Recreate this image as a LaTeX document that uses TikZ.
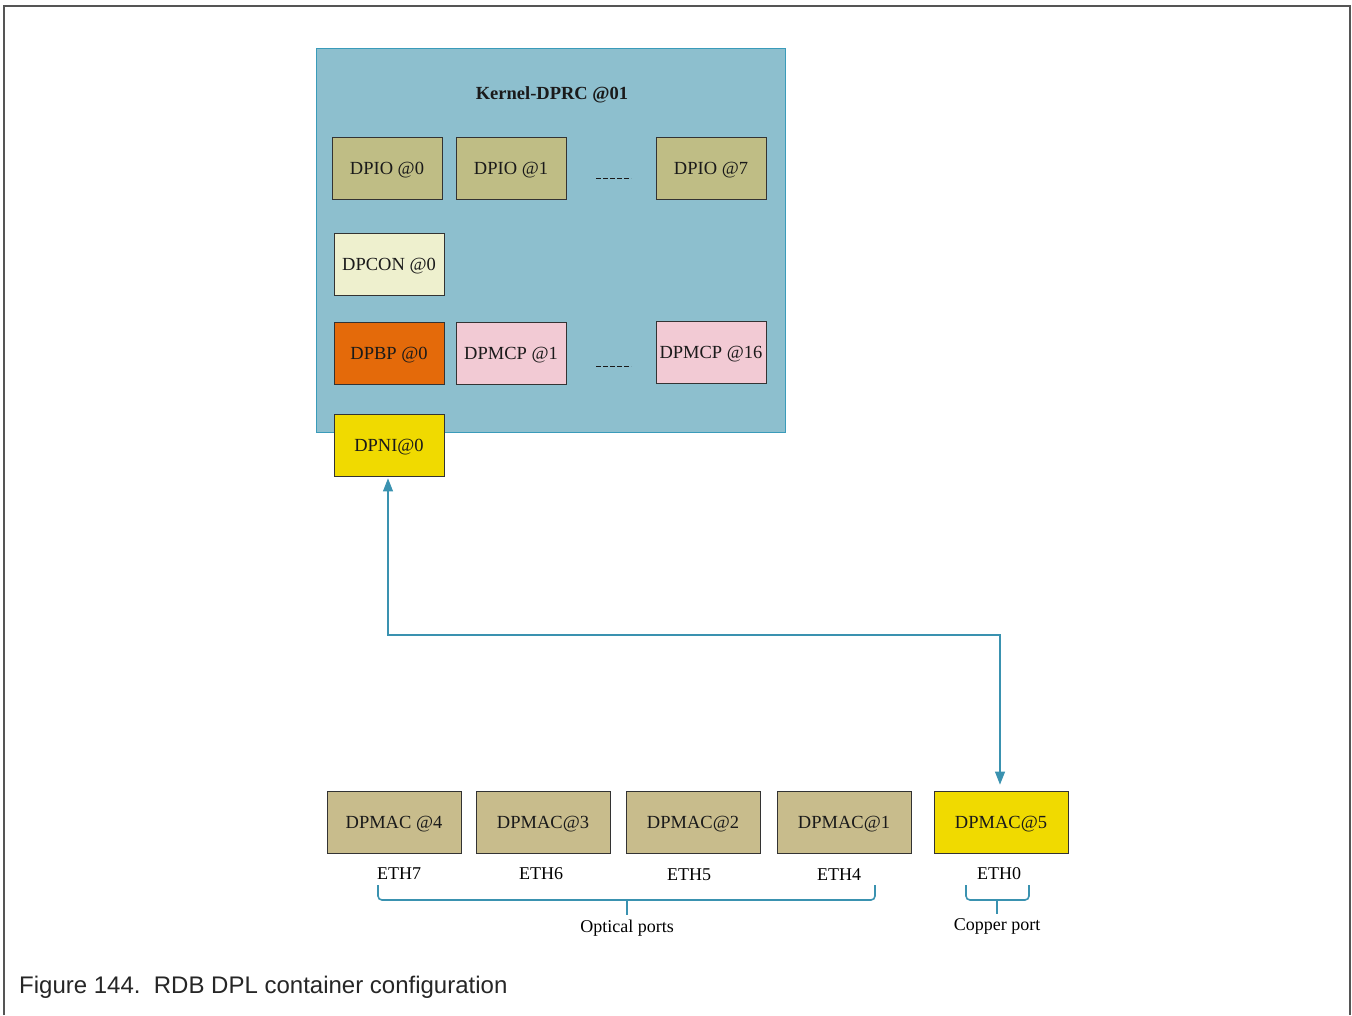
\documentclass[tikz,border=0pt]{standalone}
\usepackage{fontspec}
\setmainfont{Liberation Serif}
\newfontfamily\capfont{Liberation Sans}
\usetikzlibrary{arrows.meta}
\definecolor{contfill}{HTML}{8DBFCE}
\definecolor{contline}{HTML}{3A9BBA}
\definecolor{dpiofill}{HTML}{BFBD85}
\definecolor{macfill}{HTML}{C8BC8C}
\definecolor{confill}{HTML}{EEF0CE}
\definecolor{bpfill}{HTML}{E46A0A}
\definecolor{mcpfill}{HTML}{F2CAD4}
\definecolor{yel}{HTML}{F0DA00}
\definecolor{conn}{HTML}{3A92B0}
\definecolor{txt}{HTML}{1A1A1A}
\definecolor{frame}{HTML}{555555}
\tikzset{
  box/.style={draw=black!80, line width=0.8pt, minimum width=110pt, minimum height=62pt, inner sep=0pt, text=txt, text height=12.5pt, text depth=0pt, font=\fontsize{18.5}{20}\selectfont},
  macbox/.style={box, minimum width=134pt, fill=macfill},
  lbl/.style={inner sep=0pt, text=black, font=\fontsize{18}{20}\selectfont},
  link/.style={draw=conn, line width=1.1pt, {Triangle[width=10pt,length=13pt]}-{Triangle[width=10pt,length=13pt]}},
  brace/.style={draw=conn, line width=1.6pt, rounded corners=4pt},
  dots/.style={draw=txt, line width=0.8pt, dash pattern=on 5pt off 2pt}
}
\begin{document}
\begin{tikzpicture}[x=1pt,y=-1pt]
\useasboundingbox (0,0) rectangle (1352,1015);
% outer frame
\draw[frame, line width=1.5pt] (4,1015) -- (4,6) -- (1350,6) -- (1350,1015);
% container
\node[draw=contline, fill=contfill, line width=1pt, minimum width=469pt, minimum height=384pt, inner sep=0pt] (cont) at (550.5,240) {};
\node[lbl, font=\fontsize{18.5}{20}\selectfont\bfseries, text=txt] (title) at (552,95) {Kernel-DPRC @01};
\node[box, fill=dpiofill] (dpio0) at (387,168) {DPIO @0};
\node[box, fill=dpiofill] (dpio1) at (511,168) {DPIO @1};
\node[box, fill=dpiofill] (dpio7) at (711,168) {DPIO @7};
\coordinate (d1a) at (596,178); \coordinate (d1b) at (631,178);
\draw[dots] (d1a) -- (d1b);
\node[box, fill=confill] (dpcon) at (389,264) {DPCON @0};
\node[box, fill=bpfill] (dpbp) at (389,353) {DPBP @0};
\node[box, fill=mcpfill] (mcp1) at (511,353) {DPMCP @1};
\node[box, fill=mcpfill] (mcp16) at (711,352) {DPMCP @16};
\coordinate (d2a) at (596,366); \coordinate (d2b) at (631,366);
\draw[dots] (d2a) -- (d2b);
\node[box, fill=yel] (dpni) at (389,445) {DPNI@0};
% MACs
\node[macbox] (mac4) at (394,822) {DPMAC @4};
\node[macbox] (mac3) at (543,822) {DPMAC@3};
\node[macbox] (mac2) at (693,822) {DPMAC@2};
\node[macbox] (mac1) at (844,822) {DPMAC@1};
\node[macbox, fill=yel] (mac5) at (1001,822) {DPMAC@5};
% connector
\coordinate (bend) at (388,635);
\draw[link, shorten <=2pt, shorten >=6pt] (dpni.south -| bend) -- (bend) -| (mac5.north -| 1000,0);
% ETH labels
\node[lbl] (eth7) at (399,874) {ETH7};
\node[lbl] (eth6) at (541,874) {ETH6};
\node[lbl] (eth5) at (689,875) {ETH5};
\node[lbl] (eth4) at (839,875) {ETH4};
\node[lbl] (eth0) at (999,874) {ETH0};
% braces
\draw[brace] (378,885) -- (378,900) -- (627,900) -- (875,900) -- (875,885);
\draw[draw=conn, line width=1.6pt] (627,900) -- (627,915);
\draw[brace] (966,885) -- (966,900) -- (1029,900) -- (1029,885);
\draw[draw=conn, line width=1.6pt] (997,900) -- (997,914);
\node[lbl] (optical) at (627,928) {Optical ports};
\node[lbl] (copper) at (997,926) {Copper port};
% caption
\node[anchor=west, inner sep=0pt, text=black!85, font=\capfont\fontsize{24}{26}\selectfont] (cap) at (19,987) {Figure 144.\ \ RDB DPL container configuration};
\end{tikzpicture}
\end{document}
